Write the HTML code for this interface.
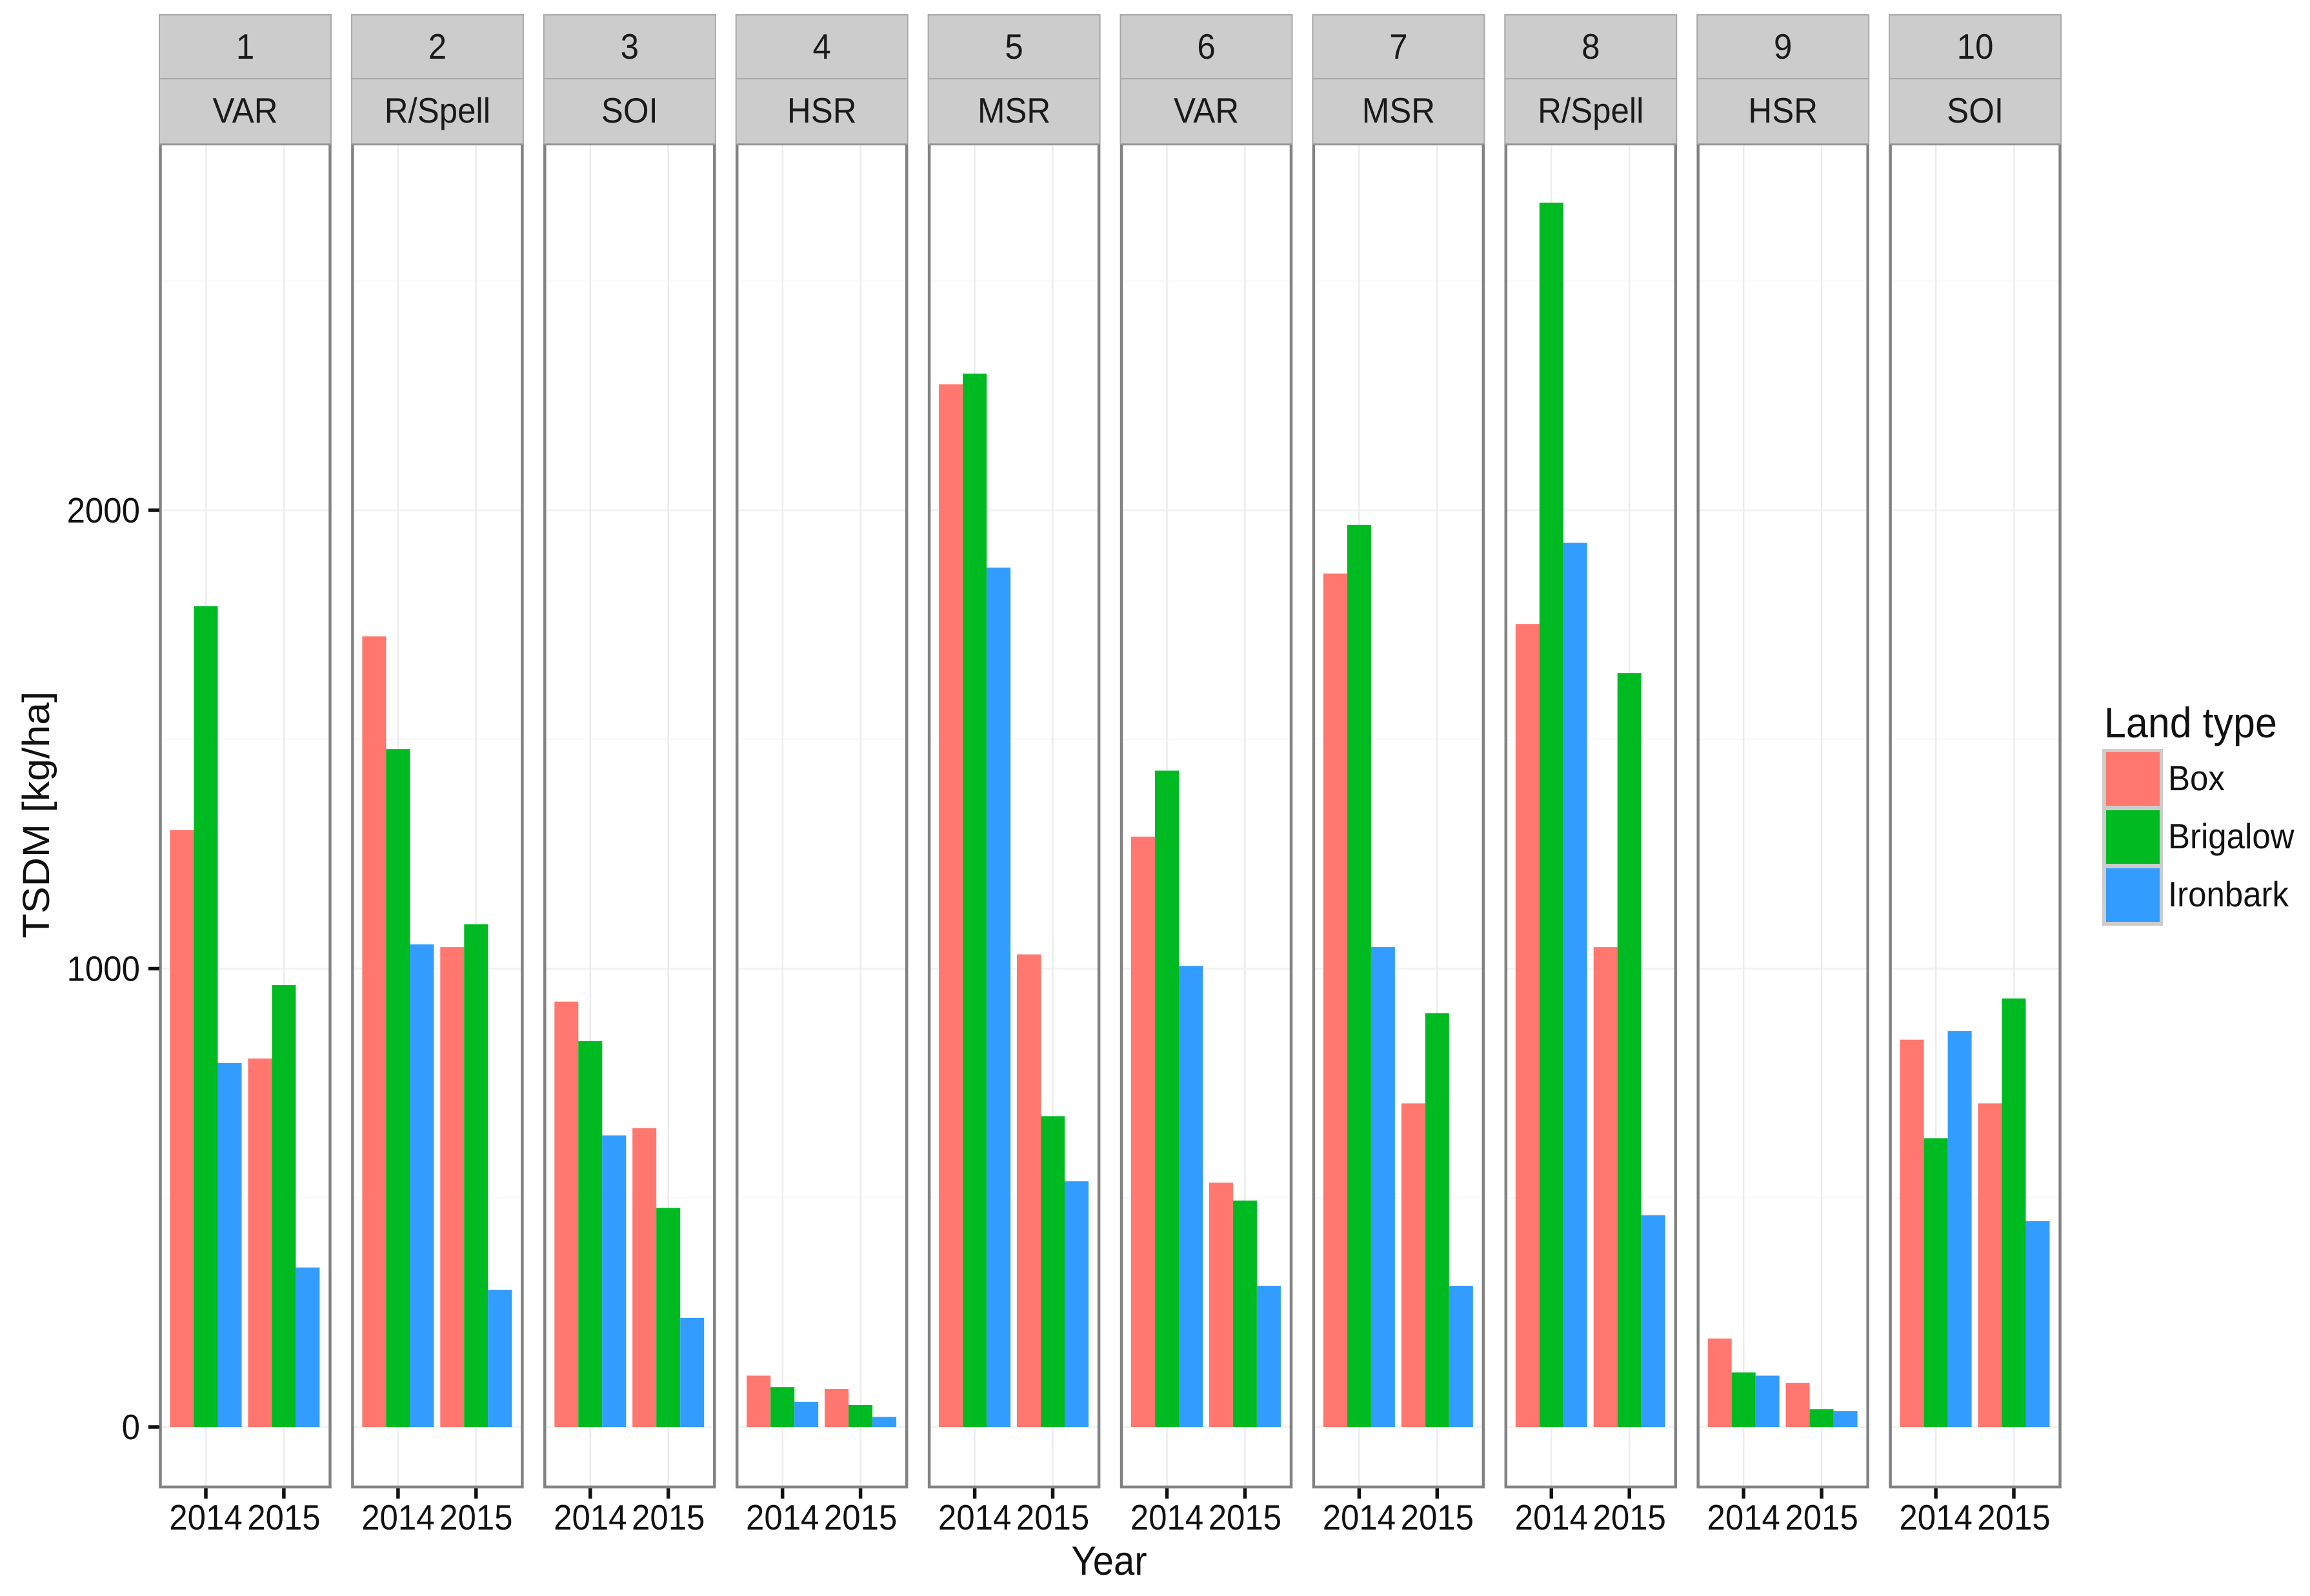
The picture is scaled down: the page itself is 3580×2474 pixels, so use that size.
<!DOCTYPE html>
<html>
<head>
<meta charset="utf-8">
<title>TSDM by land type and year</title>
<style>
html,body{margin:0;padding:0;background:#fff;}
svg{display:block;}
text{font-family:"Liberation Sans",sans-serif;}
</style>
</head>
<body>
<svg id="chart" xmlns="http://www.w3.org/2000/svg" width="3580" height="2474" viewBox="0 0 3580 2474"></svg>
<script>
const panelIds = ['1','2','3','4','5','6','7','8','9','10'];
const panelGroups = ['VAR','R/Spell','SOI','HSR','MSR','VAR','MSR','R/Spell','HSR','SOI'];
const years = ['2014','2015'];
const landTypes = ['Box','Brigalow','Ironbark'];
const yTickValues = [0,1000,2000];
const yMinorValues = [500,1500,2500];
const box2014 = [1302,1725,928,112,2275,1288,1862,1752,193,845];
const brigalow2014 = [1791,1479,842,87,2298,1432,1968,2671,119,630];
const ironbark2014 = [794,1053,636,55,1875,1006,1047,1929,112,864];
const box2015 = [804,1047,652,83,1031,533,706,1047,96,706];
const brigalow2015 = [964,1097,478,48,678,494,903,1645,39,935];
const ironbark2015 = [348,299,238,22,536,308,308,462,35,449];

const seriesByYear = [[box2014,brigalow2014,ironbark2014],[box2015,brigalow2015,ironbark2015]];
const colors = ['#FF776E','#00BA22','#339CFF'];
const NS = 'http://www.w3.org/2000/svg';
const svg = document.getElementById('chart');
const PANEL_LEFT = 247, PANEL_PITCH = 297.9, PANEL_W = 266;
const PANEL_TOP = 223, PANEL_BOTTOM = 2305, STRIP_TOP = 23, STRIP_MID = 122;
const Y0 = 2212, PX_PER_UNIT = 0.7105;
const YSCALE_TEXT = 1.08;
function yPos(v){ return Y0 - v * PX_PER_UNIT; }
function panelX(i){ return PANEL_LEFT + i * PANEL_PITCH; }
function yearX(i, yi){ return panelX(i) + 72 + yi * 120.9; }
function make(tag, attrs, parent){
  const el = document.createElementNS(NS, tag);
  for (const k in attrs) el.setAttribute(k, attrs[k]);
  (parent || svg).appendChild(el);
  return el;
}
function label(str, x, y, size, anchor, fill, parent){
  const t = make('text', {transform:'translate('+x+','+y+') scale(1,'+YSCALE_TEXT+')','font-size':size,'text-anchor':anchor,fill:fill}, parent);
  t.textContent = str;
  return t;
}

panelIds.forEach(function(id, i){
  const x = panelX(i);
  const g = make('g', {});
  
  

  const bg = make('rect', {x:x, y:PANEL_TOP, width:PANEL_W, height:PANEL_BOTTOM-PANEL_TOP, fill:'#fff'}, g);
  
  

  yMinorValues.forEach(function(v){
    const l = make('line', {x1:x, x2:x+PANEL_W, y1:yPos(v), y2:yPos(v), stroke:'#f8f8f8', 'stroke-width':2}, g);
    
    
  });
  yTickValues.forEach(function(v){
    const l = make('line', {x1:x, x2:x+PANEL_W, y1:yPos(v), y2:yPos(v), stroke:'#f2f2f2', 'stroke-width':3}, g);
    
    
  });
  years.forEach(function(yr, yi){
    const l = make('line', {x1:yearX(i,yi), x2:yearX(i,yi), y1:PANEL_TOP, y2:PANEL_BOTTOM, stroke:'#ececec', 'stroke-width':2.5}, g);
    
    
  });

  years.forEach(function(yr, yi){
    const cx = yearX(i, yi);
    const bw = 37;
    seriesByYear[yi].forEach(function(series, si){
      const v = series[i];
      const r = make('rect', {x:cx - 1.5*bw + si*bw, y:yPos(v), width:bw, height:Y0 - yPos(v), fill:colors[si]}, g);
      
      
    });
    const tick = make('line', {x1:cx, x2:cx, y1:PANEL_BOTTOM, y2:PANEL_BOTTOM+18, stroke:'#111', 'stroke-width':5.5}, g);
    
    
    const tl = label(yr, cx, 2371, 51, 'middle', '#111', g);
    
    
  });

  const border = make('rect', {x:x+1.5, y:PANEL_TOP, width:PANEL_W-3, height:PANEL_BOTTOM-PANEL_TOP, fill:'none', stroke:'#828282', 'stroke-width':4.5}, g);
  
  

  const s1 = make('rect', {x:x, y:STRIP_TOP, width:PANEL_W, height:STRIP_MID-STRIP_TOP, fill:'#cccccc', stroke:'#a8a8a8', 'stroke-width':2}, g);
  
  
  const s2 = make('rect', {x:x, y:STRIP_MID, width:PANEL_W, height:PANEL_TOP-STRIP_MID, fill:'#cccccc', stroke:'#a8a8a8', 'stroke-width':2}, g);
  
  
  const t1 = label(id, x+PANEL_W/2, 91, 51, 'middle', '#1a1a1a', g);
  
  
  const t2 = label(panelGroups[i], x+PANEL_W/2, 190, 51, 'middle', '#1a1a1a', g);
  
  
});

yTickValues.forEach(function(v){
  const tick = make('line', {x1:230, x2:247, y1:yPos(v), y2:yPos(v), stroke:'#111', 'stroke-width':5.5});
  
  
  const t = label(String(v), 217, yPos(v)+19, 51, 'end', '#111');
  
  
});

const xTitle = label('Year', 1719, 2441, 58, 'middle', '#111');



const yTitle = make('text', {transform:'translate(76,1263) scale(1,'+YSCALE_TEXT+') rotate(-90)','font-size':58,'text-anchor':'middle',fill:'#111'});
yTitle.textContent = 'TSDM [kg/ha]';



const legend = make('g', {});


const legendTitle = label('Land type', 3261, 1143, 61, 'start', '#111', legend);


const legendBg = make('rect', {x:3258, y:1161, width:94, height:274, fill:'#cccccc'}, legend);


landTypes.forEach(function(name, i){
  const top = 1166 + i * 90;
  const k = make('rect', {x:3264, y:top, width:83, height:83, fill:colors[i]}, legend);
  
  
  const t = label(name, 3360, top + 59, 51, 'start', '#111', legend);
  
  
});
</script>
</body>
</html>
